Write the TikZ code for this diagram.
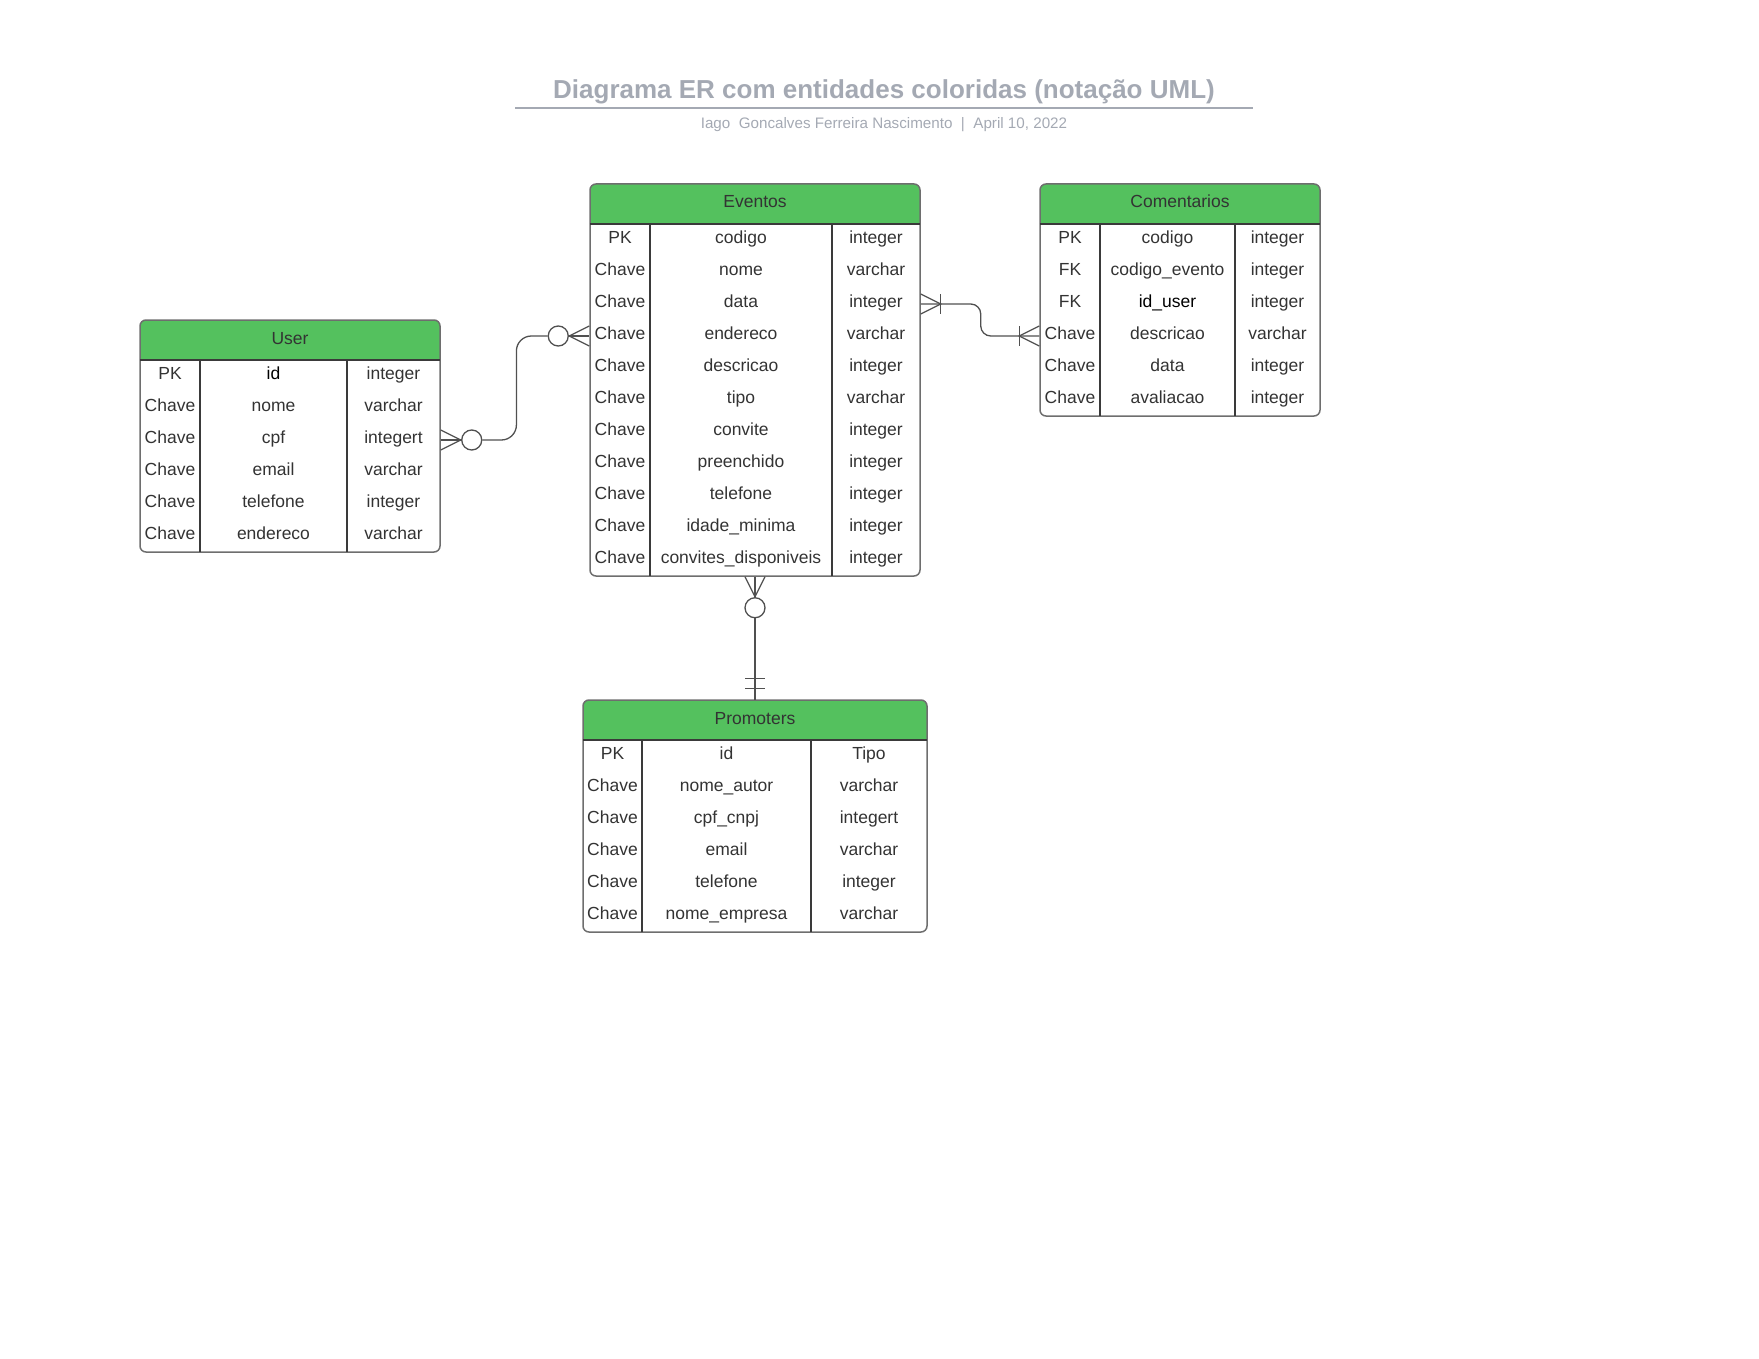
\documentclass[tikz,border=0pt]{standalone}
\usepackage{fontspec}
\setmainfont{Liberation Sans}
\usepackage{tikz}
\usetikzlibrary{backgrounds,positioning}

\definecolor{erGreen}{HTML}{54C15E}
\definecolor{erText}{HTML}{333333}
\definecolor{erBorder}{HTML}{6E6E6E}
\definecolor{erLine}{HTML}{3A3A3A}
\definecolor{erRel}{HTML}{505050}
\definecolor{erTitle}{HTML}{A4A9B3}

\begin{document}
\begin{tikzpicture}[x=1pt, y=-1pt]
		\tikzstyle{Entity}	= [draw=erBorder, line width=1.5pt, rounded corners=6pt, inner sep=0pt, minimum height=232pt]
		\tikzstyle{Head}	= [fill=erGreen, rounded corners=6pt, inner sep=0pt, minimum height=40pt, text height=14pt, text depth=6pt, text=erText, font=\fontsize{17.5}{21}\selectfont]
		\tikzstyle{Cell}	= [inner sep=0pt, text height=14pt, text depth=7pt, text=erText, font=\fontsize{17.5}{21}\selectfont]
		\tikzstyle{Dark}	= [text=black]
		\tikzstyle{Grid}	= [draw=erLine, line width=1.5pt]
		\tikzstyle{Rel}		= [draw=erRel, line width=1.3pt]
		\tikzstyle{Ring}	= [circle, draw=erRel, line width=1.3pt, fill=white, minimum size=20pt, inner sep=0pt]
		\tikzstyle{Title}	= [text=erTitle, font=\fontsize{26}{30}\selectfont\bfseries]
		\tikzstyle{Info}	= [text=erTitle, font=\fontsize{15.2}{18}\selectfont]

		\useasboundingbox (0,0) rectangle (1759,1359);

		% title
		\node (title) at (884,91.5) [Title] {Diagrama ER com entidades coloridas (notação UML)};
		\draw [draw=erTitle, line width=1.5pt] (515,108) -- (1253,108);
		\node (info) at (884,124.5) [Info] {Iago\ \ Goncalves Ferreira Nascimento\ \ |\ \ April 10, 2022};

		% Eventos
		\node (eventosH) at (755,204) [Head, minimum width=330pt] {Eventos};
		\begin{scope}[on background layer]
			\fill [erGreen] (eventosH.west) rectangle (eventosH.south east);
		\end{scope}
		\node (eventos) at (755,380) [Entity, minimum width=330pt, minimum height=392pt] {};
		\draw [Grid] (eventosH.south west) -- (eventosH.south east);
		\draw [Grid] (650,224) -- (650,576);
		\draw [Grid] (832,224) -- (832,576);
		\node (e1k) at (620,240) [Cell] {PK};    \node (e1n) at (741,240) [Cell] {codigo};    \node (e1t) at (876,240) [Cell] {integer};
		\node (e2k) at (620,272) [Cell] {Chave}; \node (e2n) at (741,272) [Cell] {nome};      \node (e2t) at (876,272) [Cell] {varchar};
		\node (e3k) at (620,304) [Cell] {Chave}; \node (e3n) at (741,304) [Cell] {data};      \node (e3t) at (876,304) [Cell] {integer};
		\node (e4k) at (620,336) [Cell] {Chave}; \node (e4n) at (741,336) [Cell] {endereco};  \node (e4t) at (876,336) [Cell] {varchar};
		\node (e5k) at (620,368) [Cell] {Chave}; \node (e5n) at (741,368) [Cell] {descricao}; \node (e5t) at (876,368) [Cell] {integer};
		\node (e6k) at (620,400) [Cell] {Chave}; \node (e6n) at (741,400) [Cell] {tipo};      \node (e6t) at (876,400) [Cell] {varchar};
		\node (e7k) at (620,432) [Cell] {Chave}; \node (e7n) at (741,432) [Cell] {convite};   \node (e7t) at (876,432) [Cell] {integer};
		\node (e8k) at (620,464) [Cell] {Chave}; \node (e8n) at (741,464) [Cell] {preenchido}; \node (e8t) at (876,464) [Cell] {integer};
		\node (e9k) at (620,496) [Cell] {Chave}; \node (e9n) at (741,496) [Cell] {telefone};  \node (e9t) at (876,496) [Cell] {integer};
		\node (e10k) at (620,528) [Cell] {Chave}; \node (e10n) at (741,528) [Cell] {idade\_minima}; \node (e10t) at (876,528) [Cell] {integer};
		\node (e11k) at (620,560) [Cell] {Chave}; \node (e11n) at (741,560) [Cell] {convites\_disponiveis}; \node (e11t) at (876,560) [Cell] {integer};

		% Comentarios
		\node (comentH) at (1180,204) [Head, minimum width=280pt] {Comentarios};
		\begin{scope}[on background layer]
			\fill [erGreen] (comentH.west) rectangle (comentH.south east);
		\end{scope}
		\node (coment) at (1180,300) [Entity, minimum width=280pt] {};
		\draw [Grid] (comentH.south west) -- (comentH.south east);
		\draw [Grid] (1100,224) -- (1100,416);
		\draw [Grid] (1235,224) -- (1235,416);
		\node (c1k) at (1070,240) [Cell] {PK};    \node (c1n) at (1167.5,240) [Cell] {codigo};        \node (c1t) at (1277.5,240) [Cell] {integer};
		\node (c2k) at (1070,272) [Cell] {FK};    \node (c2n) at (1167.5,272) [Cell] {codigo\_evento}; \node (c2t) at (1277.5,272) [Cell] {integer};
		\node (c3k) at (1070,304) [Cell] {FK};    \node (c3n) at (1167.5,304) [Cell, Dark] {id\_user}; \node (c3t) at (1277.5,304) [Cell] {integer};
		\node (c4k) at (1070,336) [Cell] {Chave}; \node (c4n) at (1167.5,336) [Cell] {descricao};     \node (c4t) at (1277.5,336) [Cell] {varchar};
		\node (c5k) at (1070,368) [Cell] {Chave}; \node (c5n) at (1167.5,368) [Cell] {data};          \node (c5t) at (1277.5,368) [Cell] {integer};
		\node (c6k) at (1070,400) [Cell] {Chave}; \node (c6n) at (1167.5,400) [Cell] {avaliacao};     \node (c6t) at (1277.5,400) [Cell] {integer};

		% User
		\node (userH) at (290,340) [Head, minimum width=300pt] {User};
		\begin{scope}[on background layer]
			\fill [erGreen] (userH.west) rectangle (userH.south east);
		\end{scope}
		\node (user) at (290,436) [Entity, minimum width=300pt] {};
		\draw [Grid] (userH.south west) -- (userH.south east);
		\draw [Grid] (200,360) -- (200,552);
		\draw [Grid] (347,360) -- (347,552);
		\node (u1k) at (170,376) [Cell] {PK};    \node (u1n) at (273.5,376) [Cell, Dark] {id}; \node (u1t) at (393.5,376) [Cell] {integer};
		\node (u2k) at (170,408) [Cell] {Chave}; \node (u2n) at (273.5,408) [Cell] {nome};     \node (u2t) at (393.5,408) [Cell] {varchar};
		\node (u3k) at (170,440) [Cell] {Chave}; \node (u3n) at (273.5,440) [Cell] {cpf};      \node (u3t) at (393.5,440) [Cell] {integert};
		\node (u4k) at (170,472) [Cell] {Chave}; \node (u4n) at (273.5,472) [Cell] {email};    \node (u4t) at (393.5,472) [Cell] {varchar};
		\node (u5k) at (170,504) [Cell] {Chave}; \node (u5n) at (273.5,504) [Cell] {telefone}; \node (u5t) at (393.5,504) [Cell] {integer};
		\node (u6k) at (170,536) [Cell] {Chave}; \node (u6n) at (273.5,536) [Cell] {endereco}; \node (u6t) at (393.5,536) [Cell] {varchar};

		% Promoters
		\node (promH) at (755,720) [Head, minimum width=344pt] {Promoters};
		\begin{scope}[on background layer]
			\fill [erGreen] (promH.west) rectangle (promH.south east);
		\end{scope}
		\node (prom) at (755,816) [Entity, minimum width=344pt] {};
		\draw [Grid] (promH.south west) -- (promH.south east);
		\draw [Grid] (642,740) -- (642,932);
		\draw [Grid] (811,740) -- (811,932);
		\node (p1k) at (612.5,756) [Cell] {PK};    \node (p1n) at (726.5,756) [Cell] {id};            \node (p1t) at (869,756) [Cell] {Tipo};
		\node (p2k) at (612.5,788) [Cell] {Chave}; \node (p2n) at (726.5,788) [Cell] {nome\_autor};   \node (p2t) at (869,788) [Cell] {varchar};
		\node (p3k) at (612.5,820) [Cell] {Chave}; \node (p3n) at (726.5,820) [Cell] {cpf\_cnpj};     \node (p3t) at (869,820) [Cell] {integert};
		\node (p4k) at (612.5,852) [Cell] {Chave}; \node (p4n) at (726.5,852) [Cell] {email};         \node (p4t) at (869,852) [Cell] {varchar};
		\node (p5k) at (612.5,884) [Cell] {Chave}; \node (p5n) at (726.5,884) [Cell] {telefone};      \node (p5t) at (869,884) [Cell] {integer};
		\node (p6k) at (612.5,916) [Cell] {Chave}; \node (p6n) at (726.5,916) [Cell] {nome\_empresa}; \node (p6t) at (869,916) [Cell] {varchar};

		% User -- Eventos (zero or many on both ends)
		\path (user.east |- u3t) ++(31,0) node (ringU) [Ring] {};
		\path (eventos.west |- e4k) ++(-31,0) node (ringE) [Ring] {};
		\draw [Rel] (user.east |- u3t) -- (ringU.west);
		\draw [Rel, rounded corners=15pt] (ringU.east) -- ++(34,0) |- (ringE.west);
		\draw [Rel] (ringE.east) -- (eventos.west |- e4k);
		\draw [Rel] (user.east |- u3t) ++(0,-10) -- ++(20,10) -- ++(-20,10);
		\draw [Rel] (eventos.west |- e4k) ++(0,-10) -- ++(-20,10) -- ++(20,10);

		% Eventos -- Comentarios (one or many on both ends)
		\draw [Rel, rounded corners=10pt] (eventos.east |- e3t) -- ++(60,0) |- (coment.west |- c4k);
		\draw [Rel] (eventos.east |- e3t) ++(0,-10) -- ++(20,10) -- ++(-20,10);
		\draw [Rel] (eventos.east |- e3t) ++(20,-10) -- ++(0,20);
		\draw [Rel] (coment.west |- c4k) ++(0,-10) -- ++(-20,10) -- ++(20,10);
		\draw [Rel] (coment.west |- c4k) ++(-20,-10) -- ++(0,20);

		% Eventos -- Promoters (zero or many / exactly one)
		\path (eventos.south) ++(0,31) node (ringP) [Ring] {};
		\draw [Rel] (eventos.south) -- (ringP.north);
		\draw [Rel] (eventos.south) ++(-10,0) -- ++(10,20) -- ++(10,-20);
		\draw [Rel] (ringP.south) -- (promH.north);
		\draw [Rel] (promH.north) ++(-10,-21) -- ++(20,0);
		\draw [Rel] (promH.north) ++(-10,-11) -- ++(20,0);
	\end{tikzpicture}
\end{document}
